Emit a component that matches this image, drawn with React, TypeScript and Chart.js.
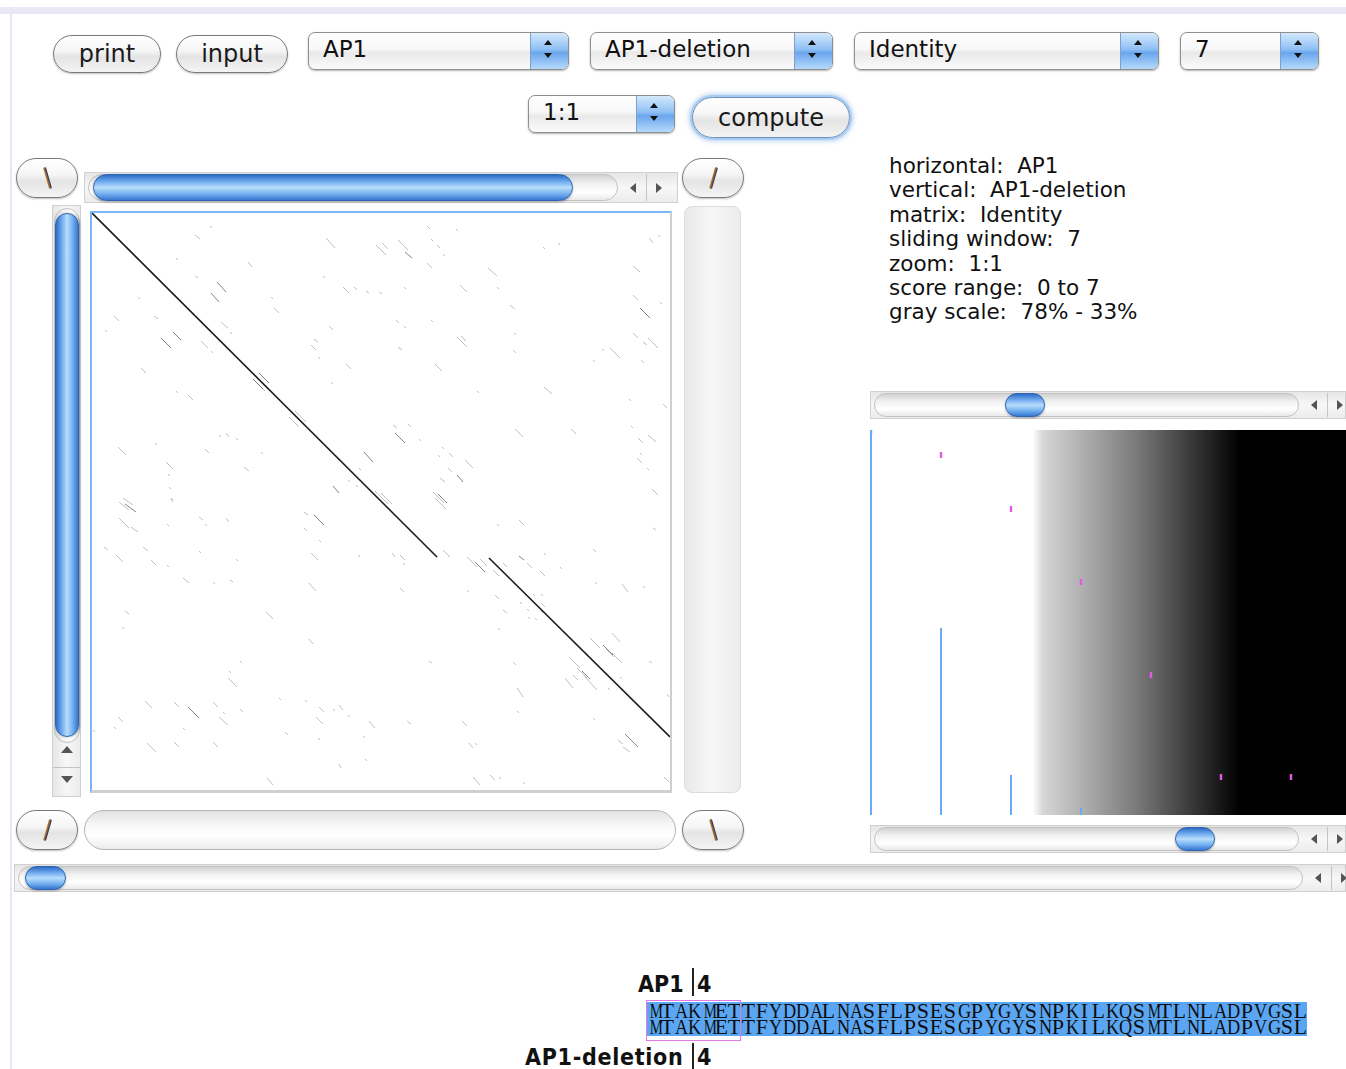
import React, { useEffect, useRef } from "react";
import { Chart, registerables } from "chart.js";

Chart.register(...registerables);

// ---------------- DATA ----------------
// dot plot: residue coordinates [x1, y1, x2, y2] (horizontal AP1, vertical AP1-deletion)
const MAIN_DIAGONAL: number[][] = [
  [0, 0, 345, 344],
  [397, 345, 578, 524],
];

const DARK_SEGMENTS: number[][] = [
  [125, 69, 134, 79], [119, 80, 127, 89], [81, 119, 89, 127], [69, 125, 79, 135],
  [161, 166, 171, 176], [167, 160, 177, 170], [272, 239, 281, 249], [241, 273, 247, 280],
  [313, 39, 320, 45], [548, 95, 558, 105], [303, 220, 313, 230], [365, 262, 371, 269],
  [286, 285, 296, 295], [346, 281, 355, 290], [33, 291, 44, 299], [222, 302, 232, 312],
  [96, 494, 107, 505], [383, 349, 393, 359], [427, 343, 432, 347], [511, 432, 521, 442],
  [490, 458, 498, 466], [533, 521, 546, 534],
];

const FAINT_SEGMENTS: number[][] = [
  [234, 25, 243, 35], [118, 13, 120, 15], [103, 22, 108, 26], [284, 32, 294, 42],
  [84, 45, 86, 47], [156, 49, 160, 54], [231, 63, 233, 65], [103, 63, 106, 65],
  [251, 74, 257, 80], [262, 74, 265, 77], [274, 78, 277, 80], [287, 79, 290, 81],
  [179, 84, 181, 86], [46, 84, 48, 86], [182, 95, 187, 100], [22, 103, 27, 108],
  [62, 103, 66, 106], [13, 117, 15, 119], [129, 109, 136, 115], [138, 119, 140, 121],
  [237, 113, 241, 117], [109, 128, 116, 135], [119, 138, 121, 140], [222, 126, 226, 129],
  [219, 132, 224, 137], [226, 144, 228, 146], [254, 151, 259, 156], [49, 155, 54, 160],
  [165, 170, 173, 178], [239, 169, 241, 171], [84, 178, 86, 180], [96, 182, 101, 187],
  [197, 204, 207, 214], [203, 198, 214, 209], [127, 222, 129, 224], [134, 220, 137, 224],
  [144, 225, 146, 227], [63, 230, 65, 232], [26, 234, 34, 242], [113, 236, 117, 240],
  [169, 239, 171, 241], [74, 249, 81, 256], [152, 254, 157, 258], [76, 261, 78, 263],
  [267, 255, 269, 257], [77, 274, 79, 276], [256, 267, 258, 269], [264, 272, 266, 274],
  [31, 285, 41, 292], [79, 285, 81, 287],
  [335, 13, 338, 16], [364, 16, 366, 18], [290, 30, 296, 36], [306, 27, 316, 37],
  [339, 26, 341, 28], [345, 32, 348, 35], [351, 41, 353, 43], [335, 50, 340, 55],
  [396, 55, 405, 63], [451, 34, 453, 36], [466, 30, 468, 32], [557, 25, 561, 30],
  [566, 22, 568, 24], [541, 53, 548, 59], [312, 74, 314, 76], [368, 72, 375, 79],
  [405, 74, 407, 76], [418, 92, 423, 96], [541, 82, 546, 87], [568, 89, 570, 91],
  [304, 107, 307, 110], [312, 113, 314, 115], [339, 107, 341, 109], [422, 120, 424, 122],
  [365, 124, 375, 134], [369, 123, 374, 128], [541, 120, 546, 125], [551, 129, 555, 132],
  [556, 125, 566, 135], [306, 134, 310, 137], [421, 137, 424, 140], [510, 136, 512, 138],
  [518, 135, 528, 145], [501, 147, 503, 149], [549, 147, 552, 150], [343, 151, 350, 158],
  [385, 178, 387, 180], [452, 174, 460, 181], [537, 186, 539, 188], [571, 191, 575, 195],
  [301, 212, 305, 215], [316, 211, 319, 214], [327, 226, 329, 228], [423, 216, 431, 224],
  [479, 216, 484, 221], [539, 213, 541, 215], [546, 225, 551, 230], [556, 222, 564, 229],
  [350, 234, 352, 236], [346, 242, 348, 244], [357, 240, 361, 244], [373, 247, 381, 255],
  [356, 255, 360, 259], [348, 265, 353, 269], [545, 245, 550, 250], [548, 240, 550, 242],
  [555, 255, 557, 257], [560, 276, 566, 282], [283, 278, 296, 291], [289, 280, 300, 291],
  [341, 279, 352, 290], [343, 285, 354, 296],
  [27, 289, 37, 297], [79, 286, 81, 289], [27, 305, 37, 315], [39, 314, 46, 319],
  [107, 304, 111, 307], [113, 311, 115, 313], [134, 305, 137, 309], [75, 311, 77, 313],
  [212, 299, 216, 302], [212, 315, 215, 318], [227, 327, 229, 329], [12, 334, 16, 337],
  [24, 342, 31, 349], [51, 334, 56, 338], [59, 347, 64, 352], [75, 352, 77, 354],
  [107, 338, 109, 340], [144, 346, 146, 348], [219, 340, 226, 347], [266, 342, 268, 344],
  [91, 365, 97, 370], [121, 369, 123, 371], [138, 367, 141, 369], [217, 370, 224, 378],
  [33, 398, 37, 401], [30, 414, 32, 416], [174, 399, 181, 406], [217, 426, 221, 431],
  [148, 448, 150, 450], [137, 458, 139, 460], [136, 465, 145, 474], [187, 485, 189, 487],
  [213, 487, 215, 489], [53, 488, 60, 495], [82, 489, 87, 494], [121, 489, 126, 494],
  [131, 499, 133, 501], [127, 504, 136, 512], [148, 496, 151, 499], [227, 494, 232, 499],
  [224, 504, 231, 511], [241, 496, 243, 498], [247, 492, 251, 497], [256, 502, 258, 504],
  [277, 508, 283, 515], [26, 504, 31, 509], [22, 514, 24, 516], [1, 517, 3, 519],
  [91, 515, 93, 517], [193, 519, 196, 522], [226, 525, 228, 527], [271, 523, 273, 525],
  [55, 530, 64, 539], [82, 529, 87, 534], [121, 529, 126, 534], [273, 546, 275, 548],
  [247, 551, 249, 555], [175, 565, 181, 572],
  [405, 311, 407, 313], [427, 307, 432, 312], [561, 315, 564, 317], [351, 337, 358, 344],
  [300, 340, 303, 344], [308, 342, 313, 347], [311, 350, 313, 352], [375, 344, 385, 354],
  [388, 346, 395, 353], [411, 350, 415, 354], [401, 357, 407, 363], [435, 350, 440, 355],
  [448, 358, 453, 363], [452, 340, 454, 342], [468, 354, 470, 356], [501, 336, 504, 339],
  [503, 369, 505, 371], [530, 371, 536, 379], [551, 373, 553, 375], [308, 375, 312, 379],
  [375, 377, 377, 379], [403, 382, 407, 386], [411, 397, 415, 400], [428, 389, 430, 391],
  [435, 396, 437, 398], [436, 404, 438, 406], [443, 405, 445, 407], [441, 381, 443, 383],
  [449, 381, 451, 383], [449, 390, 453, 394], [449, 398, 451, 400], [406, 415, 408, 417],
  [498, 425, 508, 435], [514, 436, 522, 444], [520, 420, 528, 429], [520, 440, 530, 450],
  [478, 445, 488, 455], [485, 455, 495, 465], [473, 465, 481, 475], [481, 462, 486, 467],
  [493, 464, 505, 477], [516, 475, 518, 477], [528, 464, 530, 466], [557, 448, 560, 450],
  [337, 448, 340, 450], [421, 449, 424, 452], [425, 475, 431, 484], [425, 498, 427, 500],
  [501, 505, 503, 507], [575, 481, 577, 484], [315, 508, 319, 511], [370, 508, 375, 513],
  [377, 530, 381, 535], [383, 530, 385, 532], [526, 527, 531, 531], [531, 534, 538, 539],
  [381, 564, 388, 572], [398, 562, 403, 567], [407, 564, 409, 566], [431, 569, 433, 571],
  [572, 564, 577, 569],
];

const PLOT_X_MAX = 578;
const PLOT_Y_MAX = 577;

// score histogram (right panel)
const SCORES = [0, 1, 2, 3, 4, 5, 6];
const SCORE_COUNTS = [385, 187, 40, 7, 0, 0, 0];
const SCORE_CUMULATIVE = [384, 360, 306, 233, 140, 38, 38];
const SCORE_X_MIN = -0.014;
const SCORE_X_MAX = 6.786;
const COUNT_MAX = 385;
const GRAY_START = 2.31;
const GRAY_END = 5.27;

// texts
const INFO_LINES = [
  "horizontal:  AP1",
  "vertical:  AP1-deletion",
  "matrix:  Identity",
  "sliding window:  7",
  "zoom:  1:1",
  "score range:  0 to 7",
  "gray scale:  78% - 33%",
];
const SEQ_H_NAME = "AP1";
const SEQ_V_NAME = "AP1-deletion";
const SEQ_POS = "4";
const SEQ_H = "MTAKMETTFYDDALNASFLPSESGPYGYSNPKILKQSMTLNLADPVGSL";
const SEQ_V = "MTAKMETTFYDDALNASFLPSESGPYGYSNPKILKQSMTLNLADPVGSL";

// ---------------- UI helpers ----------------
const SANS = '"DejaVu Sans", "Liberation Sans", sans-serif';
const COND = '"DejaVu Sans Condensed", "DejaVu Sans", sans-serif';
const SEQ_FONT = '21px "Liberation Serif"';
const BLUE_THUMB_H =
  "linear-gradient(to bottom, #2c6cc6 0%, #74aef0 28%, #b9ddfb 50%, #7db8f2 72%, #3777d2 100%)";
const BLUE_THUMB_V =
  "linear-gradient(to right, #2c6cc6 0%, #74aef0 28%, #b9ddfb 50%, #7db8f2 72%, #3777d2 100%)";

let measureCtx: CanvasRenderingContext2D | null = null;
function charWidth(c: string) {
  if (!measureCtx) {
    const cv = document.createElement("canvas");
    measureCtx = cv.getContext("2d");
  }
  if (!measureCtx) return 12;
  measureCtx.font = SEQ_FONT;
  return measureCtx.measureText(c).width || 12;
}

function Tri({ dir, left, top, s = 5, color = "#444" }: any) {
  const st: any = { position: "absolute", left, top, width: 0, height: 0 };
  const t = "transparent";
  if (dir === "up") {
    st.borderLeft = `${s}px solid ${t}`;
    st.borderRight = `${s}px solid ${t}`;
    st.borderBottom = `${s * 1.3}px solid ${color}`;
  } else if (dir === "down") {
    st.borderLeft = `${s}px solid ${t}`;
    st.borderRight = `${s}px solid ${t}`;
    st.borderTop = `${s * 1.3}px solid ${color}`;
  } else if (dir === "left") {
    st.borderTop = `${s}px solid ${t}`;
    st.borderBottom = `${s}px solid ${t}`;
    st.borderRight = `${s * 1.3}px solid ${color}`;
  } else {
    st.borderTop = `${s}px solid ${t}`;
    st.borderBottom = `${s}px solid ${t}`;
    st.borderLeft = `${s * 1.3}px solid ${color}`;
  }
  return <div style={st} />;
}

function Pill({ left, top, width, height, children, glow = false, fontSize = 24 }: any) {
  return (
    <div
      style={{
        position: "absolute",
        left,
        top,
        width,
        height,
        boxSizing: "border-box",
        borderRadius: height / 2,
        border: glow ? "1.5px solid #6d8fb8" : "1.5px solid #7a7a7a",
        background:
          "linear-gradient(to bottom, #ffffff 0%, #f6f6f6 40%, #e4e4e4 58%, #f4f4f4 100%)",
        boxShadow: glow
          ? "0 0 0 2px #a9cdf2, 0 0 5px 3px rgba(90,150,220,0.45)"
          : "0 1px 2px rgba(0,0,0,0.25)",
        display: "flex",
        alignItems: "center",
        justifyContent: "center",
        fontFamily: SANS,
        fontSize,
        color: "#1a1a1a",
      }}
    >
      {children}
    </div>
  );
}

function Slash({ left, top, width, height, back = false }: any) {
  return (
    <Pill left={left} top={top} width={width} height={height}>
      <div
        style={{
          width: 3,
          height: 22,
          borderRadius: 1,
          background: "linear-gradient(to right, #d98a2a, #1b2b6b)",
          transform: `rotate(${back ? -16 : 16}deg)`,
        }}
      />
    </Pill>
  );
}

function Select({ left, top, width, height = 38, text }: any) {
  return (
    <div
      style={{
        position: "absolute",
        left,
        top,
        width,
        height,
        boxSizing: "border-box",
        borderRadius: 7,
        border: "1px solid #8e8e8e",
        background:
          "linear-gradient(to bottom, #ffffff 0%, #f7f7f7 45%, #e9e9e9 55%, #fbfbfb 100%)",
        boxShadow: "0 1px 2px rgba(0,0,0,0.3)",
        overflow: "hidden",
      }}
    >
      <div
        style={{
          position: "absolute",
          left: 14,
          top: -1,
          height: height - 2,
          lineHeight: `${height - 4}px`,
          fontFamily: SANS,
          fontSize: 23,
          color: "#111",
        }}
      >
        {text}
      </div>
      <div
        style={{
          position: "absolute",
          right: 0,
          top: 0,
          width: 37,
          height: height - 2,
          borderLeft: "1px solid #7b9fd0",
          background:
            "linear-gradient(to bottom, #d4e8fc 0%, #8fc0f4 45%, #6aa6ec 55%, #b5d9fb 100%)",
        }}
      >
        <Tri dir="up" left={13} top={7} s={4} color="#111" />
        <Tri dir="down" left={13} top={20} s={4} color="#111" />
      </div>
    </div>
  );
}

function HScroll({ left, top, width, height, troughW, thumbL, thumbW }: any) {
  const arrowsX = left + troughW + 8;
  return (
    <>
      <div
        style={{
          position: "absolute",
          left,
          top,
          width,
          height,
          boxSizing: "border-box",
          border: "1px solid #d0d0d0",
          background: "linear-gradient(to bottom, #e6e6e6, #f7f7f7 50%, #ececec)",
        }}
      />
      <div
        style={{
          position: "absolute",
          left: left + 4,
          top: top + 2,
          width: troughW,
          height: height - 4,
          boxSizing: "border-box",
          borderRadius: (height - 4) / 2,
          border: "1px solid #c2c2c2",
          background:
            "linear-gradient(to bottom, #d2d2d2, #f2f2f2 35%, #ffffff 70%, #e9e9e9)",
        }}
      />
      <div
        style={{
          position: "absolute",
          left: thumbL,
          top: top + 2,
          width: thumbW,
          height: height - 4,
          boxSizing: "border-box",
          borderRadius: (height - 4) / 2,
          border: "1px solid #2d63b0",
          background: BLUE_THUMB_H,
          boxShadow: "0 1px 2px rgba(0,0,0,0.3)",
        }}
      />
      <Tri dir="left" left={arrowsX + 8} top={top + height / 2 - 5} s={5} color="#555" />
      <div
        style={{
          position: "absolute",
          left: arrowsX + 24,
          top: top + 2,
          width: 1,
          height: height - 4,
          background: "#c4c4c4",
        }}
      />
      <Tri dir="right" left={arrowsX + 34} top={top + height / 2 - 5} s={5} color="#555" />
    </>
  );
}

function SeqLine({ seq }: any) {
  return (
    <div style={{ display: "flex", height: 16 }}>
      {seq.split("").map((c: string, i: number) => {
        const w = charWidth(c);
        const sc = Math.min(1.05, 13.2 / w);
        return (
          <span
            key={i}
            style={{
              display: "inline-block",
              width: 13.47,
              textAlign: "center",
              overflow: "visible",
            }}
          >
            <span style={{ display: "inline-block", transform: `scaleX(${sc.toFixed(3)})` }}>{c}</span>
          </span>
        );
      })}
    </div>
  );
}

// ---------------- charts ----------------
function segDataset(seg: number[], color: string, width: number) {
  return {
    data: [
      { x: seg[0], y: seg[1] },
      { x: seg[2], y: seg[3] },
    ],
    showLine: true,
    borderColor: color,
    borderWidth: width,
    pointRadius: 0,
    pointHoverRadius: 0,
    tension: 0,
  };
}

function DotPlot() {
  const ref = useRef<HTMLCanvasElement>(null);
  useEffect(() => {
    if (!ref.current) return;
    const datasets: any[] = [
      ...FAINT_SEGMENTS.map((s) => segDataset(s, "rgba(60,60,60,0.32)", 1)),
      ...DARK_SEGMENTS.map((s) => segDataset(s, "rgba(30,30,30,0.55)", 1)),
      ...MAIN_DIAGONAL.map((s) => segDataset(s, "#1c1c1c", 1.6)),
    ];
    const chart = new Chart(ref.current, {
      type: "scatter",
      data: { datasets },
      options: {
        animation: false,
        responsive: false,
        devicePixelRatio: 1,
        layout: { padding: 0, autoPadding: false },
        plugins: { legend: { display: false }, tooltip: { enabled: false } },
        events: [],
        scales: {
          x: { type: "linear", min: 0, max: PLOT_X_MAX, display: false },
          y: { type: "linear", min: 0, max: PLOT_Y_MAX, reverse: true, display: false },
        },
      },
    } as any);
    return () => chart.destroy();
  }, []);
  return (
    <canvas
      ref={ref}
      width={578}
      height={577}
      style={{ display: "block", width: 578, height: 577, background: "#fff" }}
    />
  );
}

const grayPlugin = {
  id: "grayScale",
  beforeDatasetsDraw(chart: any) {
    const { ctx, chartArea, scales } = chart;
    const x0 = scales.x.getPixelForValue(GRAY_START);
    const x1 = scales.x.getPixelForValue(GRAY_END);
    ctx.save();
    ctx.fillStyle = "#ffffff";
    ctx.fillRect(chartArea.left, chartArea.top, chartArea.right - chartArea.left, chartArea.bottom - chartArea.top);
    const g = ctx.createLinearGradient(x0, 0, x1, 0);
    g.addColorStop(0, "#ffffff");
    g.addColorStop(0.05, "#d6d6d6");
    g.addColorStop(0.5, "#7a7a7a");
    g.addColorStop(1, "#000000");
    ctx.fillStyle = g;
    ctx.fillRect(x0, chartArea.top, chartArea.right - x0, chartArea.bottom - chartArea.top);
    ctx.restore();
  },
};

function ScorePanel() {
  const ref = useRef<HTMLCanvasElement>(null);
  useEffect(() => {
    if (!ref.current) return;
    const bars = SCORES.filter((_, i) => SCORE_COUNTS[i] > 0).map((s) => {
      const i = SCORES.indexOf(s);
      return {
        data: [
          { x: s, y: 0 },
          { x: s, y: SCORE_COUNTS[i] },
        ],
        showLine: true,
        borderColor: "#6aa9f4",
        borderWidth: 2,
        pointRadius: 0,
        clip: false,
      };
    });
    const marks = {
      data: SCORES.map((s, i) => ({ x: s, y: SCORE_CUMULATIVE[i] })),
      showLine: false,
      pointStyle: "line",
      rotation: 90,
      pointRadius: 3,
      borderWidth: 2.4,
      borderColor: "#e15ae6",
      backgroundColor: "#e15ae6",
      clip: false,
    };
    const chart = new Chart(ref.current, {
      type: "scatter",
      data: { datasets: [...bars, marks] },
      options: {
        animation: false,
        responsive: false,
        devicePixelRatio: 1,
        layout: { padding: 0, autoPadding: false },
        events: [],
        plugins: { legend: { display: false }, tooltip: { enabled: false } },
        scales: {
          x: { type: "linear", min: SCORE_X_MIN, max: SCORE_X_MAX, display: false },
          y: { type: "linear", min: 0, max: COUNT_MAX, display: false },
        },
      },
      plugins: [grayPlugin],
    } as any);
    return () => chart.destroy();
  }, []);
  return (
    <canvas ref={ref} width={476} height={385} style={{ display: "block", width: 476, height: 385 }} />
  );
}

// ---------------- App ----------------
export default function App() {
  const boldLabel = {
    position: "absolute" as const,
    fontFamily: COND,
    fontStretch: "condensed",
    fontWeight: "bold" as const,
    fontSize: 23,
    lineHeight: "24px",
    color: "#111",
  };
  return (
    <div
      style={{
        position: "absolute",
        left: 0,
        top: 0,
        width: 1346,
        height: 1069,
        overflow: "hidden",
        background: "#ffffff",
        fontFamily: SANS,
      }}
    >
      {/* window frame */}
      <div style={{ position: "absolute", left: 0, top: 7, width: 1346, height: 7, background: "#e8e8f6" }} />
      <div style={{ position: "absolute", left: 10, top: 7, width: 2, height: 1062, background: "#e6e6f6" }} />

      {/* top controls */}
      <Pill left={53} top={35} width={108} height={38}>print</Pill>
      <Pill left={176} top={35} width={112} height={38}>input</Pill>
      <Select left={308} top={32} width={261} text="AP1" />
      <Select left={590} top={32} width={243} text="AP1-deletion" />
      <Select left={854} top={32} width={305} text="Identity" />
      <Select left={1180} top={32} width={139} text="7" />
      <Select left={528} top={95} width={147} text="1:1" />
      <Pill left={692} top={97} width={158} height={41} glow>compute</Pill>

      {/* dot plot controls */}
      <Slash left={16} top={158} width={62} height={40} back />
      <Slash left={682} top={158} width={62} height={40} />
      <HScroll left={84} top={172} width={594} height={31} troughW={530} thumbL={93} thumbW={480} />

      {/* left vertical scrollbar */}
      <div
        style={{
          position: "absolute",
          left: 52,
          top: 205,
          width: 29,
          height: 592,
          boxSizing: "border-box",
          border: "1px solid #d0d0d0",
          background: "linear-gradient(to right, #e6e6e6, #f7f7f7 50%, #ececec)",
        }}
      />
      <div
        style={{
          position: "absolute",
          left: 54,
          top: 208,
          width: 26,
          height: 535,
          boxSizing: "border-box",
          borderRadius: 13,
          border: "1px solid #c2c2c2",
          background: "linear-gradient(to right, #d2d2d2, #f2f2f2 35%, #ffffff 70%, #e9e9e9)",
        }}
      />
      <div
        style={{
          position: "absolute",
          left: 55,
          top: 213,
          width: 24,
          height: 524,
          boxSizing: "border-box",
          borderRadius: 12,
          border: "1px solid #2d63b0",
          background: BLUE_THUMB_V,
          boxShadow: "1px 0 2px rgba(0,0,0,0.3)",
        }}
      />
      <Tri dir="up" left={61} top={746} s={6} color="#555" />
      <div style={{ position: "absolute", left: 53, top: 767, width: 27, height: 1, background: "#c4c4c4" }} />
      <Tri dir="down" left={61} top={776} s={6} color="#555" />

      {/* right empty vertical track */}
      <div
        style={{
          position: "absolute",
          left: 684,
          top: 206,
          width: 57,
          height: 587,
          boxSizing: "border-box",
          borderRadius: 8,
          border: "1px solid #dcdcdc",
          background: "linear-gradient(to right, #e9e9e9, #f7f7f7 50%, #ececec)",
        }}
      />

      {/* dot plot box */}
      <div
        style={{
          position: "absolute",
          left: 90,
          top: 211,
          width: 582,
          height: 582,
          boxSizing: "border-box",
          borderTop: "2px solid #7ab6f7",
          borderLeft: "2px solid #7ab6f7",
          borderRight: "2px solid #cfcfcf",
          borderBottom: "3px solid #cfcfcf",
        }}
      >
        <DotPlot />
      </div>

      {/* bottom controls of dot plot */}
      <Slash left={16} top={810} width={62} height={40} />
      <div
        style={{
          position: "absolute",
          left: 84,
          top: 810,
          width: 592,
          height: 40,
          boxSizing: "border-box",
          borderRadius: 20,
          border: "1.5px solid #b5b5b5",
          background: "linear-gradient(to bottom, #e2e2e2, #f6f6f6 35%, #ffffff 65%, #ececec)",
        }}
      />
      <Slash left={682} top={810} width={62} height={40} back />

      {/* full width scrollbar */}
      <HScroll left={14} top={864} width={1332} height={28} troughW={1285} thumbL={25} thumbW={41} />

      {/* info text */}
      <div
        style={{
          position: "absolute",
          left: 889,
          top: 154,
          fontFamily: SANS,
          fontSize: 21.5,
          lineHeight: "24.4px",
          color: "#111",
          whiteSpace: "pre",
        }}
      >
        {INFO_LINES.map((l) => (
          <div key={l}>{l}</div>
        ))}
      </div>

      {/* score panel */}
      <HScroll left={870} top={391} width={476} height={28} troughW={425} thumbL={1005} thumbW={40} />
      <div style={{ position: "absolute", left: 870, top: 430 }}>
        <ScorePanel />
      </div>
      <HScroll left={870} top={825} width={476} height={28} troughW={425} thumbL={1175} thumbW={40} />

      {/* alignment */}
      <div style={{ ...boldLabel, left: 638, top: 972 }}>{SEQ_H_NAME}</div>
      <div style={{ position: "absolute", left: 692, top: 968, width: 1.5, height: 28, background: "#222" }} />
      <div style={{ ...boldLabel, left: 697, top: 972 }}>{SEQ_POS}</div>

      <div
        style={{
          position: "absolute",
          left: 647,
          top: 1002,
          width: 660,
          height: 34,
          background: "#5ba6f3",
        }}
      />
      <div
        style={{
          position: "absolute",
          left: 647,
          top: 1003,
          font: SEQ_FONT,
          lineHeight: "16px",
          color: "#0d0d0d",
          whiteSpace: "pre",
        }}
      >
        <SeqLine seq={SEQ_H} />
        <SeqLine seq={SEQ_V} />
      </div>
      <div
        style={{
          position: "absolute",
          left: 646,
          top: 1000,
          width: 95,
          height: 41,
          boxSizing: "border-box",
          border: "1.5px solid #e27ae6",
        }}
      />

      <div style={{ ...boldLabel, left: 525, top: 1045, letterSpacing: 0.7 }}>{SEQ_V_NAME}</div>
      <div style={{ position: "absolute", left: 692, top: 1043, width: 1.5, height: 26, background: "#222" }} />
      <div style={{ ...boldLabel, left: 697, top: 1045 }}>{SEQ_POS}</div>
    </div>
  );
}
